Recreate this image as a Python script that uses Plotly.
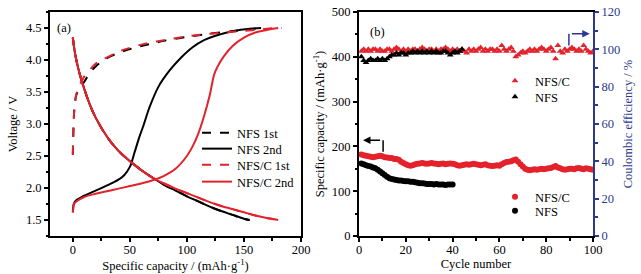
import plotly.graph_objects as go

# ---------------- Panel (a) data ----------------
nfs1_chg_x = [0, 0.3, 0.7, 1.2, 2, 3, 5, 7, 10, 15, 20, 25, 30, 40, 50, 60, 70, 80, 100, 120, 140, 150, 160, 165]
nfs1_chg_y = [2.52, 2.75, 3.0, 3.2, 3.35, 3.45, 3.53, 3.58, 3.66, 3.8, 3.9, 3.97, 4.03, 4.11, 4.17, 4.22, 4.26, 4.3, 4.36, 4.41, 4.45, 4.47, 4.49, 4.5]
nfsc1_chg_x = [0, 0.3, 0.7, 1.2, 2, 3, 5, 7, 10, 15, 20, 25, 30, 40, 50, 60, 70, 80, 100, 120, 140, 160, 170, 183]
nfsc1_chg_y = [2.52, 2.75, 3.0, 3.2, 3.35, 3.46, 3.56, 3.64, 3.74, 3.85, 3.94, 4.0, 4.04, 4.13, 4.19, 4.24, 4.28, 4.31, 4.37, 4.41, 4.44, 4.47, 4.49, 4.5]
nfs2_chg_x = [0, 0.5, 1, 3, 10, 20, 30, 40, 45, 50, 54, 58, 62, 67, 75, 85, 95, 105, 115, 125, 140, 155, 165]
nfs2_chg_y = [1.62, 1.72, 1.76, 1.81, 1.88, 1.96, 2.04, 2.13, 2.2, 2.33, 2.55, 2.78, 2.98, 3.25, 3.58, 3.84, 4.04, 4.2, 4.31, 4.38, 4.45, 4.49, 4.5]
nfsc2_chg_x = [0, 0.5, 1, 3, 10, 20, 30, 40, 50, 60, 70, 80, 90, 100, 105, 110, 115, 120, 124, 127, 132, 140, 150, 160, 170, 180]
nfsc2_chg_y = [1.62, 1.7, 1.75, 1.79, 1.86, 1.91, 1.95, 1.99, 2.03, 2.07, 2.12, 2.19, 2.3, 2.5, 2.65, 2.85, 3.12, 3.45, 3.78, 3.9, 4.05, 4.22, 4.35, 4.43, 4.47, 4.5]
nfs_dis_x = [0, 2, 5, 10, 15, 20, 30, 40, 50, 60, 70, 80, 90, 100, 110, 120, 130, 140, 150, 155]
nfs_dis_y = [4.35, 4.1, 3.85, 3.55, 3.3, 3.1, 2.8, 2.58, 2.42, 2.28, 2.16, 2.05, 1.96, 1.87, 1.79, 1.71, 1.64, 1.58, 1.52, 1.5]
nfsc_dis_x = [0, 2, 5, 10, 15, 20, 30, 40, 50, 60, 70, 80, 90, 100, 110, 120, 130, 140, 150, 160, 170, 180]
nfsc_dis_y = [4.35, 4.1, 3.85, 3.55, 3.3, 3.1, 2.8, 2.58, 2.42, 2.28, 2.16, 2.07, 1.99, 1.92, 1.85, 1.78, 1.72, 1.67, 1.62, 1.57, 1.53, 1.5]

# ---------------- Panel (b) data ----------------
nfsc_cap = [182, 180, 179, 178, 177, 176, 177, 178, 179, 178,
            176, 175, 174, 174, 172, 172, 170, 166, 163, 160,
            158, 157, 158, 160, 161, 162, 163, 162, 161, 162,
            163, 162, 161, 160, 161, 162, 160, 161, 162, 161,
            160, 158, 157, 158, 159, 160, 159, 160, 161, 160,
            159, 158, 159, 160, 158, 157, 156, 157, 158, 157,
            160, 163, 165, 166, 167, 169, 171, 166, 160, 155,
            150, 148, 147, 148, 149, 148, 149, 150, 149, 150,
            151, 152, 154, 156, 153, 151, 149, 148, 149, 150,
            150, 149, 151, 152, 150, 149, 151, 150, 149, 148]
nfs_cap = [162, 160, 158, 156, 155, 153, 151, 148, 144, 140,
           136, 132, 129, 127, 126, 125, 124, 124, 123, 122,
           122, 121, 121, 120, 119, 118, 118, 117, 116, 116,
           116, 115, 116, 115, 115, 115, 114, 115, 115, 115]
nfsc_eff = [99, 100, 99, 100, 99, 100, 100, 99, 100, 99,
            99, 100, 100, 99, 100, 101, 100, 99, 100, 99,
            100, 99, 100, 100, 99, 100, 101, 100, 99, 100,
            100, 99, 100, 99, 100, 100, 101, 100, 99, 100,
            99, 100, 99, 100, 99, 98, 100, 99, 100, 99,
            100, 101, 99, 100, 99, 100, 100, 99, 100, 99,
            102, 100, 99, 100, 101, 99, 96, 97, 98, 99,
            98, 99, 100, 99, 100, 99, 100, 101, 100, 99,
            100, 101, 99, 95, 102, 99, 98, 100, 99, 100,
            101, 100, 99, 100, 99, 102, 100, 99, 98, 99]
nfs_eff = [96, 94, 93, 94, 95, 94, 94, 95, 94, 95,
           94, 95, 96, 97, 97, 98, 97, 98, 98, 97,
           98, 98, 99, 98, 99, 98, 99, 98, 99, 98,
           99, 98, 99, 98, 98, 99, 99, 98, 97, 98,
           99, 98, 99, 100]

RED = "#e3222b"
BLUE = "#2b3990"
FONT = "Liberation Serif, Times New Roman, Times, serif"
FS = 12.5

def join(a_x, a_y, b_x, b_y):
    return a_x + [None] + b_x, a_y + [None] + b_y

W, H = 641, 274
def px_x(a, b):
    return [a / W, b / W]
def px_y(top, bot):
    return [1 - bot / H, 1 - top / H]

fig = go.Figure()

series_a = [
    ("NFS 1st", nfs1_chg_x, nfs1_chg_y, nfs_dis_x, nfs_dis_y, "black", "dash", "legend", 133),
    ("NFS 2nd", nfs2_chg_x, nfs2_chg_y, nfs_dis_x, nfs_dis_y, "black", "solid", "legend2", 149),
    ("NFS/C 1st", nfsc1_chg_x, nfsc1_chg_y, nfsc_dis_x, nfsc_dis_y, RED, "dash", "legend3", 165),
    ("NFS/C 2nd", nfsc2_chg_x, nfsc2_chg_y, nfsc_dis_x, nfsc_dis_y, RED, "solid", "legend4", 182),
]
legend_pos = {}
for name, cx, cy, dx, dy, col, dash, leg, ly in series_a:
    xs, ys = join(cx, cy, dx, dy)
    fig.add_trace(go.Scatter(x=xs, y=ys, mode="lines", name=name, connectgaps=False,
                             line=dict(color=col, width=2, dash=dash, shape="spline"),
                             xaxis="x", yaxis="y", legend=leg))
    legend_pos[leg] = (197, ly)

cyc100 = list(range(1, 101))
fig.add_trace(go.Scatter(x=cyc100, y=nfsc_eff, mode="markers", name="NFS/C",
                         marker=dict(symbol="triangle-up", size=6, color=RED),
                         xaxis="x2", yaxis="y3", legend="legend5"))
fig.add_trace(go.Scatter(x=list(range(1, len(nfs_eff) + 1)), y=nfs_eff, mode="markers", name="NFS",
                         marker=dict(symbol="triangle-up", size=6, color="black"),
                         xaxis="x2", yaxis="y3", legend="legend6"))
fig.add_trace(go.Scatter(x=cyc100, y=nfsc_cap, mode="markers", name="NFS/C",
                         marker=dict(symbol="circle", size=6, color=RED),
                         xaxis="x2", yaxis="y2", legend="legend7"))
fig.add_trace(go.Scatter(x=list(range(1, len(nfs_cap) + 1)), y=nfs_cap, mode="markers", name="NFS",
                         marker=dict(symbol="circle", size=6, color="black"),
                         xaxis="x2", yaxis="y2", legend="legend8"))
legend_pos.update({"legend5": (495, 81), "legend6": (495, 97),
                   "legend7": (495, 197), "legend8": (495, 211)})

tickfont = dict(family=FONT, size=FS, color="black")
titlefont = dict(family=FONT, size=FS, color="black")
common = dict(showline=True, linecolor="black", linewidth=2, ticks="outside", ticklen=4,
              tickwidth=1.5, tickcolor="black", showgrid=False, zeroline=False,
              tickfont=tickfont, automargin=False)

fig.update_layout(
    template="none",
    width=W, height=H, margin=dict(l=0, r=0, t=0, b=0, pad=0),
    plot_bgcolor="white", paper_bgcolor="white",
    font=dict(family=FONT, size=FS, color="black"),
    xaxis=dict(domain=px_x(50, 301), range=[-20, 200], tickvals=[0, 50, 100, 150, 200],
               minor=dict(ticks="outside", ticklen=2.5, tickcolor="black", dtick=25, tick0=0),
               mirror=True, anchor="y", ticklabelstandoff=-3,
               title=dict(text="Specific capacity / (mAh·g<sup>-1</sup>)", font=titlefont, standoff=0), **common),
    yaxis=dict(domain=px_y(12, 236), range=[1.25, 4.75], tickvals=[1.5, 2.0, 2.5, 3.0, 3.5, 4.0, 4.5],
               ticktext=["1.5", "2.0", "2.5", "3.0", "3.5", "4.0", "4.5"],
               minor=dict(ticks="outside", ticklen=2.5, tickcolor="black", dtick=0.25, tick0=0),
               mirror=True, anchor="x",
               title=dict(text="Voltage / V", font=titlefont, standoff=6), **common),
    xaxis2=dict(domain=px_x(359, 593), range=[0, 100], tickvals=[0, 20, 40, 60, 80, 100],
                minor=dict(ticks="outside", ticklen=2.5, tickcolor="black", dtick=10, tick0=0),
                mirror=True, anchor="y2", ticklabelstandoff=-3,
                title=dict(text="Cycle number", font=titlefont, standoff=0), **common),
    yaxis2=dict(domain=px_y(12, 236), range=[0, 500], tickvals=[0, 100, 200, 300, 400, 500],
                minor=dict(ticks="outside", ticklen=2.5, tickcolor="black", dtick=50, tick0=0),
                anchor="x2",
                title=dict(text="Specific capacity / (mAh·g<sup>-1</sup>)", font=titlefont, standoff=4), **common),
    yaxis3=dict(range=[0, 120], tickvals=[0, 20, 40, 60, 80, 100, 120],
                overlaying="y2", side="right", anchor="x2", automargin=False,
                showline=True, linecolor=BLUE, linewidth=2, ticks="outside", ticklen=4,
                tickwidth=1.5, tickcolor=BLUE, showgrid=False, zeroline=False,
                minor=dict(ticks="outside", ticklen=2.5, tickcolor=BLUE, dtick=10, tick0=0),
                tickfont=dict(family=FONT, size=FS, color=BLUE),
                title=dict(text="Coulombic efficiency / %", font=dict(family=FONT, size=FS, color=BLUE), standoff=4)),
    showlegend=True,
)

for leg, (lx, ly) in legend_pos.items():
    fig.update_layout({leg: dict(x=lx / W, y=1 - ly / H, xanchor="left", yanchor="middle",
                                 bgcolor="rgba(0,0,0,0)", borderwidth=0,
                                 font=dict(family=FONT, size=FS, color="black"),
                                 itemwidth=30, tracegroupgap=0)})

# panel labels
fig.add_annotation(text="(a)", x=-16, y=4.5, xref="x", yref="y", showarrow=False,
                   xanchor="left", font=dict(family=FONT, size=FS))
fig.add_annotation(text="(b)", x=4, y=455, xref="x2", yref="y2", showarrow=False,
                   xanchor="left", font=dict(family=FONT, size=FS))

# arrows in panel (b)
fig.add_shape(type="line", x0=10.3, x1=10.3, y0=188, y1=214, xref="x2", yref="y2",
              line=dict(color="black", width=1.5))
fig.add_annotation(x=1.7, y=214, ax=10.3, ay=214, xref="x2", yref="y2", axref="x2", ayref="y2",
                   showarrow=True, arrowhead=2, arrowsize=1, arrowwidth=1.5, arrowcolor="black", text=" ")
fig.add_shape(type="line", x0=89.7, x1=89.7, y0=102, y1=108.4, xref="x2", yref="y3",
              line=dict(color=BLUE, width=1.5))
fig.add_annotation(x=98.6, y=108.4, ax=89.7, ay=108.4, xref="x2", yref="y3", axref="x2", ayref="y3",
                   showarrow=True, arrowhead=2, arrowsize=1, arrowwidth=1.5, arrowcolor=BLUE, text=" ")

fig.write_html("out.html", config={"displayModeBar": False},
               post_script="document.body.style.margin='0px';document.body.style.padding='0px';")
